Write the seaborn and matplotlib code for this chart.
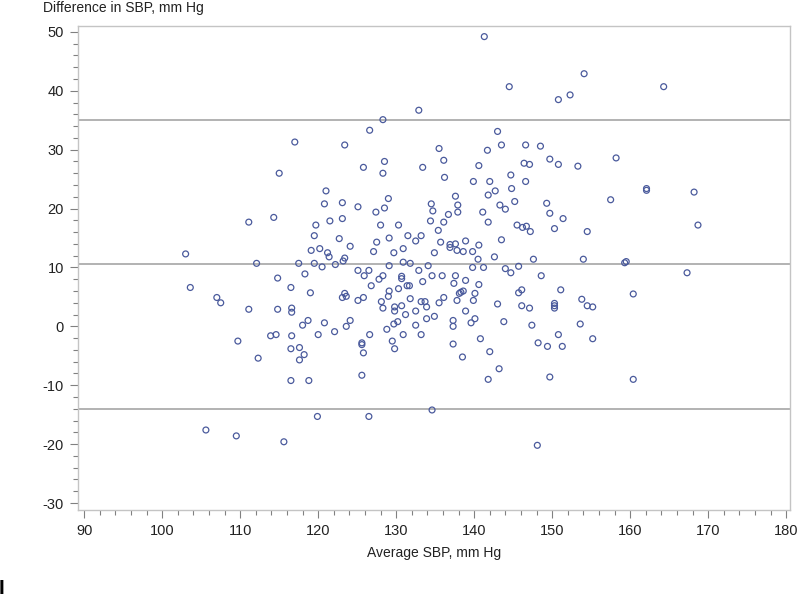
import matplotlib
matplotlib.use("Agg")
import matplotlib.pyplot as plt
import seaborn as sns
import pandas as pd
from matplotlib.ticker import MultipleLocator

# Bland-Altman data: average SBP vs difference in SBP (mm Hg)
avg_sbp = [
    141.3, 144.5, 132.9, 128.3, 126.6, 123.4, 143.0, 143.5, 141.7, 146.6,
    148.5, 149.7, 135.5, 136.1, 133.4, 128.5, 128.3, 125.8, 136.2, 140.6,
    139.9, 142.0, 146.4, 147.1, 144.7, 146.6, 144.8, 142.7, 141.8, 145.2,
    149.3, 149.7, 121.0, 120.8, 123.1, 125.1, 129.0, 128.5, 127.4, 123.1,
    121.5, 119.7, 119.5, 122.7, 124.1, 120.2, 119.1, 121.2, 121.4, 123.4,
    123.2, 119.5, 122.2, 120.5, 128.0, 130.3, 129.1, 131.5, 133.2, 132.5,
    127.5, 127.1, 129.7, 130.9, 129.1, 130.9, 131.8, 134.1, 134.5, 134.7,
    134.4, 136.1, 136.7, 137.6, 137.9, 137.9, 135.4, 135.7, 134.9, 136.9,
    136.9, 137.6, 137.8, 138.6, 138.9, 139.8, 140.6, 140.5, 139.8, 141.2,
    141.1, 141.8, 143.3, 144.0, 145.5, 146.2, 146.7, 147.2, 143.5, 142.6,
    147.6, 144.0, 145.7,
    117.0, 115.0, 114.3, 111.1, 103.0, 112.1, 117.5,
    154.1, 164.3, 152.3, 150.8, 150.8, 153.3, 158.2, 162.1, 162.1, 168.2,
    157.5, 151.4, 150.3, 154.5, 168.7, 154.0, 159.5, 159.3,
    118.3, 114.8, 116.5, 103.6, 119.0, 107.0, 107.5, 111.1, 114.8, 116.6,
    116.6, 118.7, 118.0, 120.0, 113.9, 114.6, 116.6, 109.7, 116.5, 117.6,
    118.2, 117.6, 112.3, 116.5, 118.8, 119.9, 105.6, 109.5, 115.6,
    125.1, 126.5, 125.9, 132.9, 134.6, 135.9, 137.6, 137.4, 138.9, 140.6,
    144.7, 148.6, 127.8, 128.3, 130.7, 130.7, 126.8, 129.1, 130.3, 131.4,
    131.7, 133.4, 123.1, 123.4, 123.6, 125.1, 125.8, 129.0, 128.1, 128.3,
    129.8, 129.8, 130.7, 131.8, 133.2, 133.7, 133.9, 132.5, 131.2, 130.2,
    129.7, 128.8, 132.5, 133.9, 134.9, 135.5, 136.1, 137.8, 138.1, 138.3,
    138.6, 140.1, 139.9, 138.9, 137.3, 137.3, 139.6, 140.1, 140.8, 137.3,
    138.5, 142.0, 143.2, 141.8, 143.0, 143.8, 145.7, 146.1, 146.1, 147.1,
    147.4, 148.2, 149.4, 149.7, 120.8, 122.1, 123.6, 124.1, 126.6, 125.6,
    125.6, 125.8, 125.6, 129.5, 129.8, 130.9, 133.2, 126.5, 134.6, 148.1,
    167.3, 151.1, 160.4, 153.8, 154.5, 155.2, 150.3, 150.3, 150.3, 153.6,
    150.8, 151.3, 155.2, 160.4,
]
diff_sbp = [
    49.2, 40.7, 36.7, 35.1, 33.3, 30.8, 33.1, 30.8, 29.9, 30.8,
    30.6, 28.4, 30.2, 28.2, 27.0, 28.0, 26.0, 27.0, 25.3, 27.3,
    24.6, 24.6, 27.7, 27.5, 25.7, 24.6, 23.4, 23.0, 22.3, 21.2,
    20.9, 19.2, 23.0, 20.8, 21.0, 20.3, 21.7, 20.1, 19.4, 18.3,
    17.9, 17.2, 15.4, 14.9, 13.6, 13.2, 12.9, 12.5, 11.8, 11.6,
    11.1, 10.7, 10.5, 10.1, 17.2, 17.2, 15.0, 15.4, 15.4, 14.5,
    14.3, 12.7, 12.5, 13.2, 10.3, 10.9, 10.7, 10.3, 20.8, 19.6,
    17.9, 17.7, 19.0, 22.1, 20.6, 19.4, 16.3, 14.3, 12.5, 13.9,
    13.4, 14.0, 12.9, 12.7, 14.5, 12.7, 13.8, 11.4, 10.0, 10.0,
    19.4, 17.7, 20.6, 19.9, 17.2, 16.8, 17.0, 16.1, 14.7, 11.8,
    11.4, 9.8, 10.2,
    31.3, 26.0, 18.5, 17.7, 12.3, 10.7, 10.7,
    42.9, 40.7, 39.3, 38.5, 27.5, 27.2, 28.6, 23.4, 23.1, 22.8,
    21.5, 18.3, 16.6, 16.1, 17.2, 11.4, 11.0, 10.8,
    8.9, 8.2, 6.6, 6.6, 5.7, 4.9, 4.0, 2.9, 2.9, 3.1,
    2.4, 1.0, 0.2, -1.4, -1.6, -1.4, -1.6, -2.5, -3.8, -3.6,
    -4.8, -5.7, -5.4, -9.2, -9.2, -15.3, -17.6, -18.6, -19.6,
    9.5, 9.5, 8.6, 9.5, 8.6, 8.6, 8.6, 7.3, 7.8, 7.1,
    9.1, 8.6, 8.0, 8.6, 8.5, 8.1, 6.9, 6.0, 6.4, 6.9,
    6.9, 7.6, 4.9, 5.6, 5.1, 4.4, 4.9, 5.1, 4.2, 3.1,
    3.3, 2.6, 3.5, 4.7, 4.2, 4.2, 3.3, 2.6, 2.0, 0.8,
    0.4, -0.5, 0.2, 1.3, 1.7, 4.0, 4.9, 4.4, 5.6, 5.8,
    6.0, 5.6, 4.4, 2.6, 1.0, 0.0, 0.6, 1.3, -2.1, -3.0,
    -5.2, -4.3, -7.2, -9.0, 3.8, 0.8, 5.7, 6.2, 3.5, 3.1,
    0.2, -2.8, -3.4, -8.6, 0.6, -0.9, 0.0, 1.0, -1.4, -2.8,
    -3.1, -4.5, -8.3, -2.5, -3.8, -1.4, -1.4, -15.3, -14.2, -20.2,
    9.1, 6.2, 5.5, 4.6, 3.5, 3.3, 3.9, 3.5, 3.1, 0.4,
    -1.4, -3.4, -2.1, -9.0,
]

# mean difference and limits of agreement
ref_lines = [35.1, 10.6, -14.0]

df = pd.DataFrame({"avg": avg_sbp, "diff": diff_sbp})

sns.set_style("white")
plt.rcParams["font.family"] = ["Liberation Sans", "DejaVu Sans"]
plt.rcParams["axes.unicode_minus"] = False

fig = plt.figure(figsize=(8, 5.98), dpi=100)
ax = fig.add_axes([0.0975, 0.147, 0.89, 0.8095])

for yv in ref_lines:
    ax.axhline(yv, color="#a6a6a6", lw=1.2, zorder=1)

sns.scatterplot(data=df, x="avg", y="diff", ax=ax, color="#4a5a9c",
                s=18, linewidth=0.9, zorder=3, legend=False)
pts = ax.collections[-1]
pts.set_facecolor("none")
pts.set_edgecolor("#4a5a9c")

ax.set_xlim(89.2, 180.5)
ax.set_ylim(-31.2, 51.0)
ax.xaxis.set_major_locator(MultipleLocator(10))
ax.xaxis.set_minor_locator(MultipleLocator(2))
ax.yaxis.set_major_locator(MultipleLocator(10))
ax.yaxis.set_minor_locator(MultipleLocator(2))

for s in ax.spines.values():
    s.set_color("#c4c4c4")
    s.set_linewidth(1.0)

ax.tick_params(which="major", direction="out", length=6, width=0.8,
               color="#808080", labelsize=10.5, labelcolor="#222222", pad=4,
               bottom=True, left=True)
ax.tick_params(which="minor", direction="out", length=3.5, width=0.8,
               color="#808080", bottom=True, left=True)

ax.set_xlabel("Average SBP, mm Hg", fontsize=10, color="#222222", labelpad=6)
ax.set_ylabel("")
fig.text(43 / 800, 1 - 8 / 598, "Difference in SBP, mm Hg", fontsize=10,
         color="#222222", ha="left", va="center")
fig.text(-0.002, 0.0, "I", fontsize=15, fontweight="bold", color="black",
         ha="left", va="bottom")

fig.savefig("out.png", dpi=100)
